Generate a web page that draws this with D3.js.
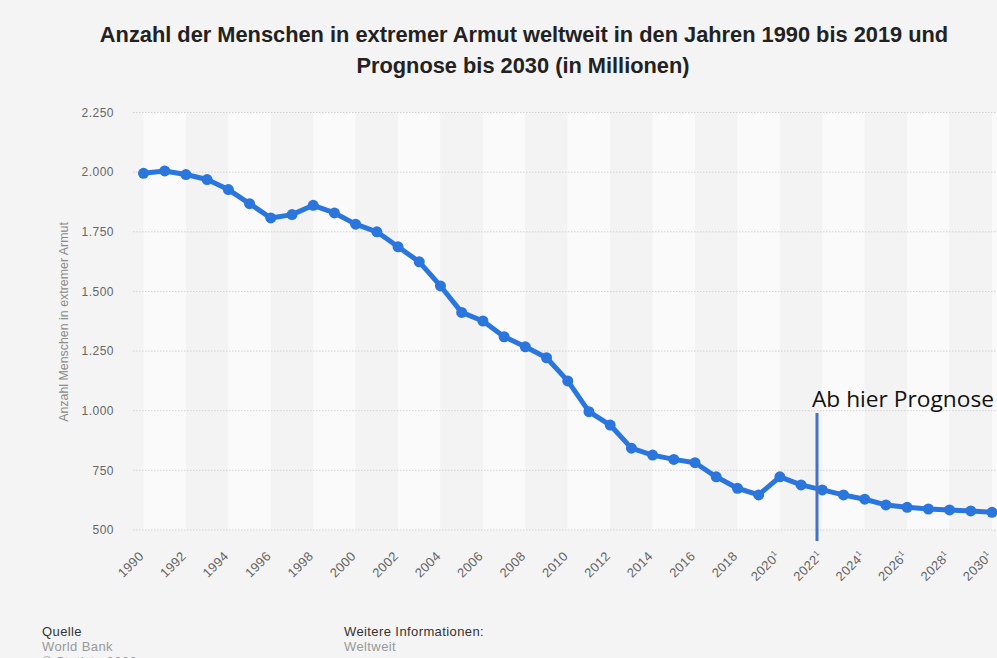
<!DOCTYPE html>
<html>
<head>
<meta charset="utf-8">
<script src="https://cdn.jsdelivr.net/npm/d3@7"></script>
<style>
  body { margin: 0; background: #f4f4f4; }
  svg { display: block; font-family: "Liberation Sans", Arial, sans-serif; }
</style>
</head>
<body>
<script>
// data: people in extreme poverty, millions
var years = [1990,1991,1992,1993,1994,1995,1996,1997,1998,1999,
             2000,2001,2002,2003,2004,2005,2006,2007,2008,2009,
             2010,2011,2012,2013,2014,2015,2016,2017,2018,2019,
             2020,2021,2022,2023,2024,2025,2026,2027,2028,2029,2030];
var values = [1995,2005,1990,1969,1927,1868,1808,1822,1861,1829,
              1782,1750,1687,1624,1523,1412,1376,1310,1268,1222,
              1125,996,940,843,814,796,782,723,675,647,
              723,689,668,647,629,605,595,588,584,580,574];
var yTicks = [500,750,1000,1250,1500,1750,2000,2250];
var xTickYears = [1990,1992,1994,1996,1998,2000,2002,2004,2006,2008,2010,
                  2012,2014,2016,2018,2020,2022,2024,2026,2028,2030];
var forecastFrom = 2020;
var prognoseAt = 2021.75;

var W = 997, H = 658;
var plot = {left: 133, right: 997, top: 112, bottom: 530};

var svg = d3.select("body").append("svg")
    .attr("width", W)
    .attr("height", H);

svg.append("rect").attr("width", W).attr("height", H).attr("fill", "#f4f4f4");

var x = d3.scaleLinear().domain([1990, 2030]).range([143.5, 992]);
var y = d3.scaleLinear().domain([500, 2250]).range([530, 112.5]);

// alternating bands, one per two years
var bandStarts = d3.range(1990, 2032, 2);
svg.append("g").selectAll("rect")
    .data(bandStarts)
    .enter()
    .append("rect")
    .attr("x", function(d){ return x(d) })
    .attr("width", function(d){ return Math.min(x(d + 2), plot.right) - x(d) })
    .attr("y", plot.top)
    .attr("height", plot.bottom - plot.top)
    .attr("fill", function(d, i){ return i % 2 == 0 ? "#fafafa" : "#f3f3f3" });

// grid
svg.append("g").selectAll("line")
    .data(yTicks)
    .enter()
    .append("line")
    .attr("x1", plot.left)
    .attr("x2", plot.right)
    .attr("y1", function(d){ return y(d) })
    .attr("y2", function(d){ return y(d) })
    .attr("stroke", "#d2d2d2")
    .attr("stroke-width", 1)
    .attr("stroke-dasharray", "1.5,1.5");

// y axis labels
var fmt = function(d){ return d3.format(",")(d).replace(/,/g, ".") };
var yAxis = svg.append("g")
    .attr("transform", "translate(" + 114 + ",0)")
    .call(d3.axisLeft(y).tickValues(yTicks).tickSize(0).tickPadding(0).tickFormat(fmt));
yAxis.select(".domain").remove();
yAxis.selectAll("text")
    .attr("fill", "#666")
    .style("font-size", "12px")
    .style("letter-spacing", "0.5px")
    .style("font-family", "Liberation Sans, Arial, sans-serif");

svg.append("text")
    .attr("transform", "translate(68,322) rotate(-90)")
    .attr("text-anchor", "middle")
    .attr("fill", "#8a8a8a")
    .style("font-size", "12.4px")
    .text("Anzahl Menschen in extremer Armut");

// x axis labels
var xl = svg.append("g").selectAll("text")
    .data(xTickYears)
    .enter()
    .append("text")
    .attr("transform", function(d){ return "translate(" + (x(d) + 1) + ",557) rotate(-45)" })
    .attr("text-anchor", "end")
    .attr("fill", "#666")
    .style("font-size", "13px")
    .style("letter-spacing", "0.3px");
xl.append("tspan").text(function(d){ return d });
xl.filter(function(d){ return d >= forecastFrom })
    .append("tspan")
    .attr("dy", -5)
    .style("font-size", "8px")
    .text("1");

// line + points
var line = d3.line()
    .x(function(d, i){ return x(years[i]) })
    .y(function(d){ return y(d) });

svg.append("path")
    .datum(values)
    .attr("d", line)
    .attr("fill", "none")
    .attr("stroke", "#2a76dd")
    .attr("stroke-width", 5)
    .attr("stroke-linejoin", "round");

svg.append("g").selectAll("circle")
    .data(values)
    .enter()
    .append("circle")
    .attr("cx", function(d, i){ return x(years[i]) })
    .attr("cy", function(d){ return y(d) })
    .attr("r", 5.5)
    .attr("fill", "#2a76dd");

// forecast marker
svg.append("line")
    .attr("x1", x(prognoseAt))
    .attr("x2", x(prognoseAt))
    .attr("y1", 413)
    .attr("y2", 541)
    .attr("stroke", "#4472c4")
    .attr("stroke-width", 3);

svg.append("text")
    .attr("x", 812)
    .attr("y", 407)
    .attr("fill", "#111")
    .attr("textLength", 182)
    .attr("lengthAdjust", "spacingAndGlyphs")
    .style("font-family", "'Open Sans', 'Noto Sans', sans-serif")
    .style("font-size", "21px")
    .text("Ab hier Prognose");

// title
var title = svg.append("text")
    .attr("text-anchor", "middle")
    .attr("fill", "#222")
    .style("font-size", "21.8px")
    .style("font-weight", "bold");
title.append("tspan").attr("x", 524).attr("y", 42)
    .text("Anzahl der Menschen in extremer Armut weltweit in den Jahren 1990 bis 2019 und");
title.append("tspan").attr("x", 523).attr("y", 73)
    .text("Prognose bis 2030 (in Millionen)");

// footer
var foot = svg.append("g").style("font-size", "13px").style("letter-spacing", "0.4px");
foot.append("text").attr("x", 42).attr("y", 636).attr("fill", "#333").text("Quelle");
foot.append("text").attr("x", 42).attr("y", 651).attr("fill", "#999").text("World Bank");
foot.append("text").attr("x", 42).attr("y", 666).attr("fill", "#999").text("© Statista 2023");
foot.append("text").attr("x", 344).attr("y", 636).attr("fill", "#333").text("Weitere Informationen:");
foot.append("text").attr("x", 344).attr("y", 651).attr("fill", "#999").text("Weltweit");
</script>
</body>
</html>
